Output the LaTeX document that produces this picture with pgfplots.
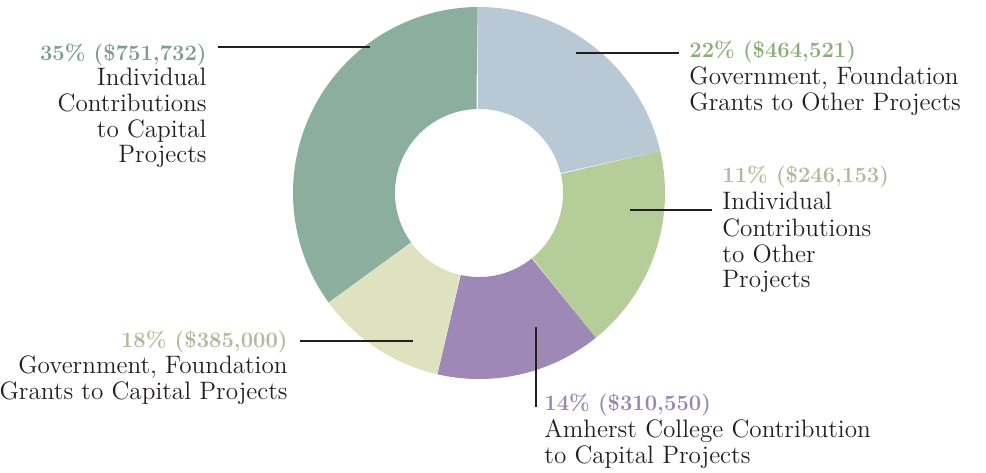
\documentclass[border=0pt]{standalone}
\usepackage{pgfplots}
\usepackage{pgfplotstable}
\pgfplotsset{compat=1.18}
\definecolor{cDark}{HTML}{8BAE9F}
\definecolor{cBlue}{HTML}{B8C8D5}
\definecolor{cGreen}{HTML}{B5CD98}
\definecolor{cPurple}{HTML}{9E88B6}
\definecolor{cPale}{HTML}{DEE2BF}
\definecolor{lDark}{HTML}{7D9E8F}
\definecolor{lGreen}{HTML}{8DAD78}
\definecolor{lPale}{HTML}{B3B99A}
\definecolor{lPurple}{HTML}{9A84B2}
\definecolor{ink}{HTML}{231F20}
% slice sizes in thousands of dollars, clockwise from the top
\pgfplotstableread{
thousands
464.521
385.000
310.550
246.153
751.732
}\slices
\newcommand\slice[3]{%
  \addplot[fill=#3, draw=none, domain=0:2, samples=241, variable=\t]
  ({479+((\t<=1)*186+(\t>1)*84)*cos(#1+(#2-#1)*(1-abs(1-\t)))},
   {193-((\t<=1)*186+(\t>1)*84)*sin(#1+(#2-#1)*(1-abs(1-\t)))});}
\tikzset{lab/.style={font=\fontsize{12.6}{14}\selectfont, text=ink, inner sep=0pt},
         big/.style={font=\fontsize{11}{14}\selectfont\bfseries, inner sep=0pt}}
\begin{document}
\begin{tikzpicture}
\pgfplotstablegetelem{0}{thousands}\of\slices \let\vA\pgfplotsretval
\pgfplotstablegetelem{1}{thousands}\of\slices \let\vB\pgfplotsretval
\pgfplotstablegetelem{2}{thousands}\of\slices \let\vC\pgfplotsretval
\pgfplotstablegetelem{3}{thousands}\of\slices \let\vD\pgfplotsretval
\pgfplotstablegetelem{4}{thousands}\of\slices \let\vE\pgfplotsretval
\pgfmathsetmacro\tot{\vA+\vB+\vC+\vD+\vE}
\pgfmathsetmacro\aA{90.6}
\pgfmathsetmacro\aB{\aA-360*(\vA/\tot)}
\pgfmathsetmacro\aC{\aB-360*(\vB/\tot)}
\pgfmathsetmacro\aD{\aC-360*(\vC/\tot)}
\pgfmathsetmacro\aE{\aD-360*(\vD/\tot)}
\pgfmathsetmacro\aF{\aE-360*(\vE/\tot)}
\begin{axis}[
  scale only axis, width=493pt, height=236pt,
  xmin=0, xmax=986, ymin=0, ymax=472, y dir=reverse,
  hide axis, clip=false,
]
\slice{\aA}{\aB}{cBlue}
\slice{\aB}{\aC}{cGreen}
\slice{\aC}{\aD}{cPurple}
\slice{\aD}{\aE}{cPale}
\slice{\aE}{\aF}{cDark}
% leader lines
\addplot[ink, line width=1pt] coordinates {(218,47) (370,47)};
\addplot[ink, line width=1pt] coordinates {(576,53) (679,53)};
\addplot[ink, line width=1pt] coordinates {(630,210) (712,210)};
\addplot[ink, line width=1pt] coordinates {(300,341) (413,341)};
\addplot[ink, line width=1pt] coordinates {(536,327) (536,407)};
% labels
\node[big, text=lDark, anchor=base east] at (axis cs:207,60) {35\% (\$751,732)};
\node[lab, anchor=base east] at (axis cs:207,85) {Individual};
\node[lab, anchor=base east] at (axis cs:207,111) {Contributions};
\node[lab, anchor=base east] at (axis cs:207,137) {to Capital};
\node[lab, anchor=base east] at (axis cs:207,162) {Projects};
\node[big, text=lGreen, anchor=base west] at (axis cs:689,57) {22\% (\$464,521)};
\node[lab, anchor=base west] at (axis cs:689,84) {Government, Foundation};
\node[lab, anchor=base west] at (axis cs:689,110) {Grants to Other Projects};
\node[big, text=lPale, anchor=base west] at (axis cs:722,182) {11\% (\$246,153)};
\node[lab, anchor=base west] at (axis cs:722,209) {Individual};
\node[lab, anchor=base west] at (axis cs:722,236) {Contributions};
\node[lab, anchor=base west] at (axis cs:722,262) {to Other};
\node[lab, anchor=base west] at (axis cs:722,287) {Projects};
\node[big, text=lPale, anchor=base east] at (axis cs:288,347) {18\% (\$385,000)};
\node[lab, anchor=base east] at (axis cs:288,373) {Government, Foundation};
\node[lab, anchor=base east] at (axis cs:288,399) {Grants to Capital Projects};
\node[big, text=lPurple, anchor=base west] at (axis cs:544,410) {14\% (\$310,550)};
\node[lab, anchor=base west] at (axis cs:544,437) {Amherst College Contribution};
\node[lab, anchor=base west] at (axis cs:544,463) {to Capital Projects};
\end{axis}
\pgfresetboundingbox
\path[use as bounding box] (current axis.south west) rectangle (current axis.north east);
\end{tikzpicture}
\end{document}
